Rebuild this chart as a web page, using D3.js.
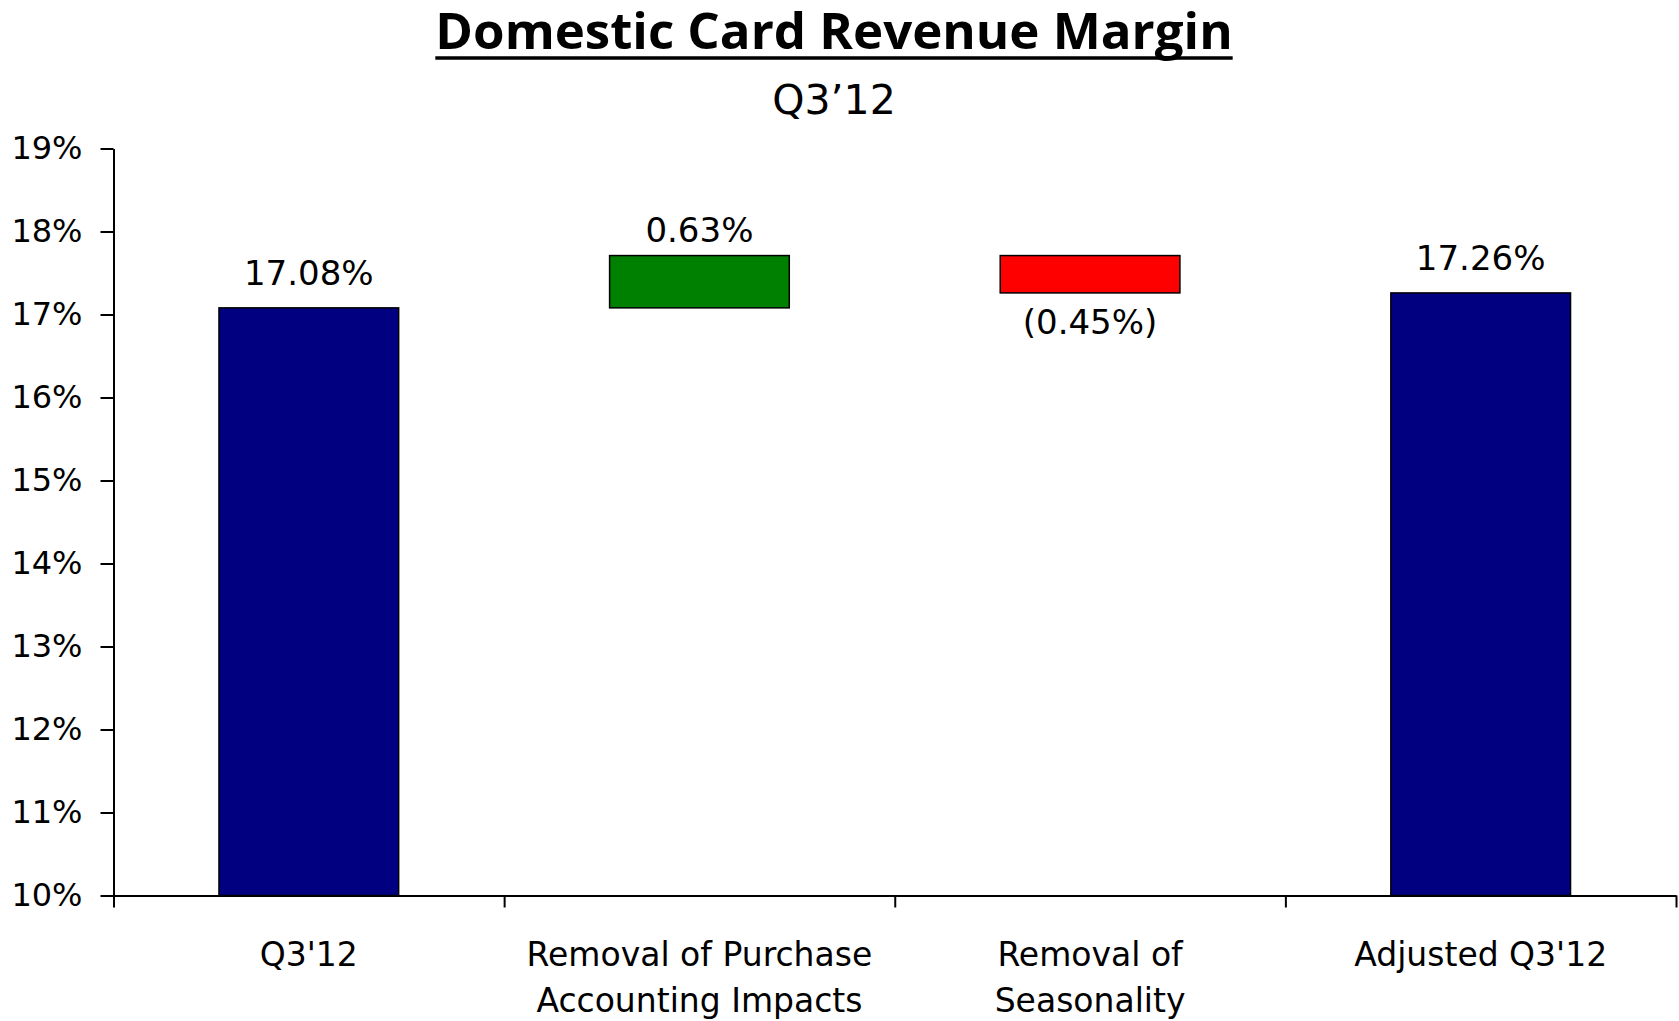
<!DOCTYPE html>
<html lang="en">
<head>
  <meta charset="UTF-8">
  <title>Domestic Card Revenue Margin</title>
  <script src="https://d3js.org/d3.v7.min.js"></script>
  <style>
    body { margin: 0; padding: 0; background: #fff; font-family: "DejaVu Sans", sans-serif; }
    svg { display: block; }
    text { fill: #000; }
  </style>
</head>
<body>
  <svg id="chart" width="1679" height="1021"></svg>

  <script>
    // data
    const categories = [["Q3'12"], ["Removal of Purchase", "Accounting Impacts"], ["Removal of", "Seasonality"], ["Adjusted Q3'12"]];
    const values = [17.08, 0.63, -0.45, 17.26];
    const kinds = ["total", "delta", "delta", "total"];
    const labels = ["17.08%", "0.63%", "(0.45%)", "17.26%"];
    const yTicks = [10, 11, 12, 13, 14, 15, 16, 17, 18, 19];
    const colors = {total: "#000080", up: "#008000", down: "#ff0000"};

    const svg = d3.select("#chart");
    const plot = {left: 113.5, right: 1676, top: 148.5, bottom: 895.5};
    const font = "'DejaVu Sans', sans-serif";

    const y = d3.scaleLinear().domain([10, 19]).range([plot.bottom, plot.top]);
    const xb = d3.scaleLinear().domain([0, categories.length]).range([plot.left, plot.right]);
    const step = (plot.right - plot.left) / categories.length;
    const barW = step * 0.46;

    // build waterfall pieces
    let run = 0;
    const bars = values.map((v, i) => {
      let lo, hi, color;
      if (kinds[i] === "total") {
        lo = 10; hi = v; run = v; color = colors.total;
      } else {
        lo = Math.min(run, run + v); hi = Math.max(run, run + v);
        run = run + v; color = v >= 0 ? colors.up : colors.down;
      }
      return {i, v, lo, hi, color, kind: kinds[i], label: labels[i]};
    });

    // title
    const title = svg.append("text")
      .attr("x", 834).attr("y", 49)
      .attr("text-anchor", "middle")
      .style("font-family", "'Open Sans', sans-serif")
      .style("font-size", "51px").style("font-weight", "bold")
      .text("Domestic Card Revenue Margin");
    const tw = title.node().getComputedTextLength();
    svg.append("line")
      .attr("x1", 834 - tw / 2).attr("x2", 834 + tw / 2)
      .attr("y1", 58).attr("y2", 58)
      .attr("stroke", "#000").attr("stroke-width", 3.5);

    svg.append("text")
      .attr("x", 834).attr("y", 114)
      .attr("text-anchor", "middle")
      .style("font-family", font)
      .style("font-size", "41px")
      .text("Q3\u201912");

    // bars
    svg.selectAll("rect.bar")
      .data(bars)
      .enter().append("rect")
      .attr("class", "bar")
      .attr("x", d => xb(d.i) + step / 2 - barW / 2)
      .attr("y", d => y(d.hi))
      .attr("width", barW)
      .attr("height", d => y(d.lo) - y(d.hi))
      .attr("fill", d => d.color)
      .attr("stroke", "#000").attr("stroke-width", 1.5);

    // value labels
    svg.selectAll("text.val")
      .data(bars)
      .enter().append("text")
      .attr("class", "val")
      .attr("x", d => xb(d.i) + step / 2)
      .attr("y", d => {
        if (d.kind === "total") return y(d.hi) - 23;
        if (d.v >= 0) return y(d.hi) - 14;
        return y(d.lo) + 41;
      })
      .attr("text-anchor", "middle")
      .style("font-family", font)
      .style("font-size", "34px")
      .text(d => d.label);

    // y axis
    const yAxis = svg.append("g")
      .attr("transform", `translate(${plot.left},0)`)
      .call(d3.axisLeft(y).tickValues(yTicks).tickSize(13).tickSizeOuter(0).tickPadding(18)
        .tickFormat(d => d + "%"));
    yAxis.selectAll("text").style("font-size", "32px").style("font-family", font).attr("fill", "#000");
    yAxis.selectAll("line, path").attr("stroke", "#000").attr("stroke-width", 2);

    // x axis (ticks between categories)
    const xAxis = svg.append("g")
      .attr("transform", `translate(0,${plot.bottom})`)
      .call(d3.axisBottom(xb).tickValues(d3.range(0, categories.length + 1)).tickSize(12).tickSizeOuter(0).tickFormat(""));
    xAxis.selectAll("line, path").attr("stroke", "#000").attr("stroke-width", 2);

    // category labels
    const cat = svg.selectAll("text.cat")
      .data(categories)
      .enter().append("text")
      .attr("class", "cat")
      .attr("text-anchor", "middle")
      .style("font-family", font)
      .style("font-size", "33px");
    cat.each(function(lines, i) {
      d3.select(this).selectAll("tspan")
        .data(lines)
        .enter().append("tspan")
        .attr("x", xb(i) + step / 2)
        .attr("y", (l, j) => 966 + j * 46)
        .text(l => l);
    });
  </script>
</body>
</html>
